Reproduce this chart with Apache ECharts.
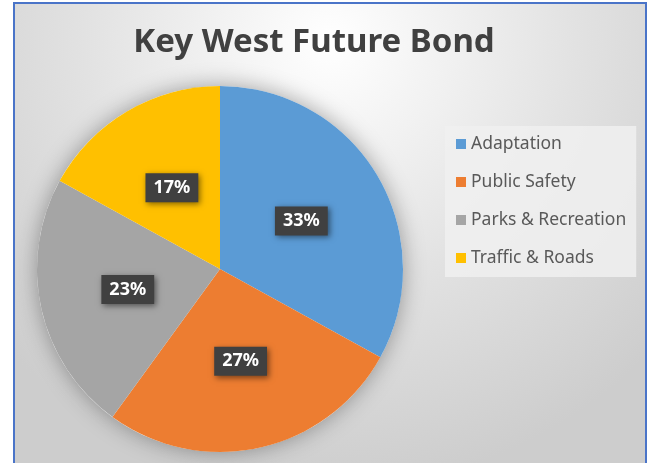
<!DOCTYPE html>
<html><head><meta charset="utf-8">
<script src="https://cdn.jsdelivr.net/npm/echarts@6/dist/echarts.min.js"></script>
<style>
html,body{margin:0;padding:0;background:#fff;width:650px;height:463px;overflow:hidden;}
#frame{position:absolute;left:13px;top:2px;width:630px;height:470px;border:2px solid #4a74c8;border-bottom:none;overflow:hidden;}
#chart{width:630px;height:470px;}
</style></head>
<body><div id="frame"><div id="chart"></div></div>
<script>
const titleText = 'Key West Future Bond';
const categories = ['Adaptation', 'Public Safety', 'Parks & Recreation', 'Traffic & Roads'];
const values = [33, 27, 23, 17];
const colors = ['#5b9bd5', '#ed7d31', '#a5a5a5', '#ffc000'];

const chart = echarts.init(document.getElementById('chart'), null, {renderer:'canvas'});
chart.setOption({
  animation: false,
  backgroundColor: {
    type: 'radial', x: 0.5, y: 0.08, r: 0.95,
    colorStops: [{offset: 0, color: '#ffffff'}, {offset: 0.55, color: '#e2e2e2'}, {offset: 1, color: '#cdcdcd'}]
  },
  title: {
    text: titleText, left: 294, top: 17, textAlign: 'center',
    textStyle: {fontFamily: 'Noto Sans', fontWeight: 'bold', fontSize: 33, color: '#404040'}
  },
  color: colors,
  legend: {
    orient: 'vertical', left: 430, top: 122,
    data: categories,
    icon: 'rect', itemWidth: 10, itemHeight: 10, itemGap: 18,
    padding: [8, 10, 9, 11],
    backgroundColor: 'rgba(240,240,240,0.85)',
    textStyle: {fontFamily: 'Noto Sans', fontSize: 17.5, color: '#595959', lineHeight: 20, padding: [0,0,0,0]}
  },
  series: [
    {
      type: 'pie', silent: true, center: [205, 265], radius: 183, z: 1,
      label: {show: false}, labelLine: {show: false},
      itemStyle: {color: '#ffffff', shadowBlur: 22, shadowColor: 'rgba(0,0,0,0.35)'},
      data: [{value: 1, name: '_bg'}], legendHoverLink: false
    },
    {
      type: 'pie', center: [205, 265], radius: 183, z: 2,
      startAngle: 90, clockwise: true,
      data: categories.map((c, i) => ({name: c, value: values[i]})),
      label: {
        show: true, position: 'inside',
        formatter: p => Math.round(p.percent) + '%',
        fontFamily: 'Noto Sans', fontWeight: 'bold', fontSize: 18, color: '#ffffff',
        backgroundColor: '#404040', padding: [6, 8, 5, 8],
        shadowBlur: 6, shadowColor: 'rgba(0,0,0,0.5)', shadowOffsetX: 2, shadowOffsetY: 2
      },
      labelLine: {show: false},
      itemStyle: {borderWidth: 0}
    }
  ]
});
</script></body></html>
